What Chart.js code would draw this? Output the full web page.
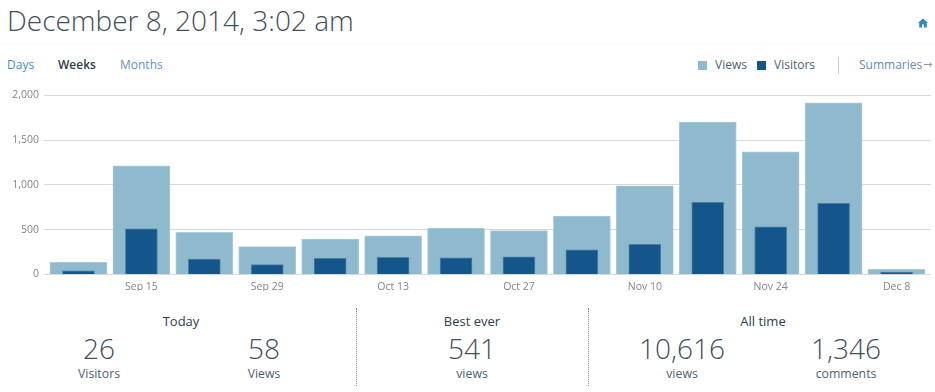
<!DOCTYPE html>
<html>
<head>
<meta charset="utf-8">
<script src="https://cdn.jsdelivr.net/npm/chart.js@4/dist/chart.umd.min.js"></script>
<style>
  html, body { margin: 0; padding: 0; background: #fff; }
  body { width: 935px; height: 392px; position: relative; overflow: hidden; font-family: "Open Sans", sans-serif; color: #3d596d; }
  .t { position: absolute; white-space: nowrap; line-height: 1; }
  .c { transform: translateX(-50%); }
  #chartWrap { position: absolute; left: 0; top: 84px; width: 935px; height: 207px; }
  .big { font-size: 28px; font-weight: 300; color: #3f4f5c; }
  .head { font-size: 13px; color: #2e3d48; }
  .sub { font-size: 12.3px; color: #4f6172; }
  .sw { position: absolute; width: 9px; height: 9px; }
  .vline { position: absolute; top: 308px; height: 78px; border-left: 1px dotted #888; }
</style>
</head>
<body>
<div class="t" style="left:7px;top:6px;font-size:28px;font-weight:300;color:#3f4f5c">December 8, 2014, 3:02 am</div>
<svg style="position:absolute;left:918px;top:18px" width="10" height="10" viewBox="0 0 10 10"><path d="M5 0.5 L10 5 L8.8 5 L8.8 9.5 L6 9.5 L6 6.5 L4 6.5 L4 9.5 L1.2 9.5 L1.2 5 L0 5 Z" fill="#2a8bbf"/></svg>
<div style="position:absolute;left:0;right:0;top:43px;border-top:1px solid #fbfbfb"></div>

<div class="t" style="left:7px;top:59px;font-size:12px;color:#3f8fc4">Days</div>
<div class="t" style="left:58px;top:59px;font-size:12px;font-weight:600;color:#2e3d48">Weeks</div>
<div class="t" style="left:120px;top:59px;font-size:12px;color:#6a90bd">Months</div>

<div class="sw" style="left:698px;top:61px;background:#8fb9cd"></div>
<div class="t" style="left:715px;top:59px;font-size:12px;color:#4f6172">Views</div>
<div class="sw" style="left:757px;top:61px;background:#14568a"></div>
<div class="t" style="left:774px;top:59px;font-size:12px;color:#4f6172">Visitors</div>
<div style="position:absolute;left:838px;top:57px;height:17px;border-left:1px solid #ccc"></div>
<div class="t" style="left:859px;top:59px;font-size:12px;color:#5f8db8">Summaries</div>
<div class="t" style="left:923px;top:59px;font-size:11px;font-family:'DejaVu Sans';color:#999">→</div>

<div id="chartWrap"><canvas id="weekChart"></canvas></div>

<div class="t c head" style="left:181px;top:315px">Today</div>
<div class="t c big" style="left:99px;top:334px">26</div>
<div class="t c big" style="left:264px;top:334px">58</div>
<div class="t c sub" style="left:99px;top:368px">Visitors</div>
<div class="t c sub" style="left:264px;top:368px">Views</div>

<div class="vline" style="left:356px"></div>

<div class="t c head" style="left:472px;top:315px">Best ever</div>
<div class="t c big" style="left:472px;top:334px">541</div>
<div class="t c sub" style="left:472px;top:368px">views</div>

<div class="vline" style="left:588px"></div>

<div class="t c head" style="left:763px;top:315px">All time</div>
<div class="t c big" style="left:682px;top:334px">10,616</div>
<div class="t c big" style="left:846px;top:334px">1,346</div>
<div class="t c sub" style="left:682px;top:368px">views</div>
<div class="t c sub" style="left:846px;top:368px">comments</div>

<script>
var categories = ["Sep 8", "Sep 15", "Sep 22", "Sep 29", "Oct 6", "Oct 13", "Oct 20", "Oct 27", "Nov 3", "Nov 10", "Nov 17", "Nov 24", "Dec 1", "Dec 8"];
var views = [135, 1213, 470, 310, 395, 430, 515, 490, 650, 990, 1700, 1370, 1915, 58];
var visitors = [40, 510, 170, 110, 180, 190, 185, 195, 275, 335, 805, 530, 795, 26];
var yTicks = [0, 500, 1000, 1500, 2000];

var gridColor = "#d9d9d9";
var tickFont = { family: "'Open Sans', sans-serif", size: 10.5 };

new Chart(document.getElementById("weekChart"), {
    type: "bar",
    data: {
        labels: categories,
        datasets: [
            { label: "Visitors", data: visitors, backgroundColor: "#14568a", borderColor: "#4a80a8", borderWidth: { left: 1, right: 1, top: 1 }, barThickness: 32, order: 1 },
            { label: "Views", data: views, backgroundColor: "#8fb9cd", borderColor: "#a9cad9", borderWidth: { left: 1, right: 1, top: 1 }, barThickness: 57, order: 2 }
        ]
    },
    options: {
        responsive: true,
        maintainAspectRatio: false,
        animation: false,
        layout: { padding: { top: 8, right: 4, bottom: 0, left: 0 } },
        plugins: { legend: { display: false }, tooltip: { enabled: false } },
        datasets: { bar: { grouped: false } },
        scales: {
            x: {
                grid: { display: false },
                border: { display: false },
                ticks: {
                    color: "#858585",
                    font: tickFont,
                    autoSkip: false,
                    maxRotation: 0,
                    padding: -2,
                    // only every second week gets a label
                    callback: function(value, index) { return index % 2 ? categories[index] : ""; }
                }
            },
            y: {
                min: 0,
                max: 2000,
                border: { display: false },
                grid: { color: gridColor, tickColor: gridColor, tickLength: 3 },
                afterBuildTicks: function(axis) { axis.ticks = yTicks.map(function(v) { return { value: v }; }); },
                afterFit: function(axis) { axis.width = 47; },
                ticks: { color: "#858585", font: tickFont, padding: 5 }
            },
            // only here to carry the gridlines past the last bar
            yEnd: {
                position: "right",
                min: 0,
                max: 2000,
                border: { display: false },
                afterBuildTicks: function(axis) { axis.ticks = yTicks.map(function(v) { return { value: v }; }); },
                grid: { drawOnChartArea: false, color: gridColor, tickLength: 3 },
                ticks: { display: false }
            }
        }
    }
});
</script>
</body>
</html>
